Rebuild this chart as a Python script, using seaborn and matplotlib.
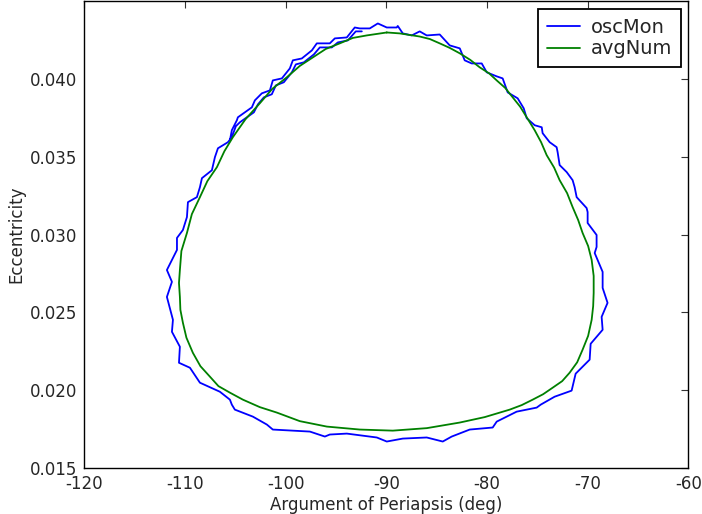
import matplotlib
matplotlib.use("Agg")
import matplotlib.pyplot as plt
import seaborn as sns
import pandas as pd

# osculating (oscMon) path, in drawing order
osc_omega = [
    -105.53, -105.34, -104.84, -104.74, -103.35, -103.05, -102.36, -101.56, -101.27, -100.37,
    -99.58, -99.28, -98.39, -97.39, -96.90, -95.61, -95.11, -93.92, -93.13, -92.63,
    -91.64, -90.84, -89.95, -88.96, -88.86, -88.36, -87.47, -86.68, -85.98, -84.69,
    -83.70, -82.70, -82.21, -81.51, -80.52, -80.02, -79.03, -78.44, -77.94, -76.95,
    -76.35, -76.05, -75.26, -74.56, -74.47, -73.77, -73.08, -72.98, -72.78, -72.08,
    -71.49, -71.29, -71.09, -70.10, -70.00, -70.00, -69.11, -69.11, -69.30, -68.51,
    -68.51, -68.02, -68.61, -68.51, -69.70, -69.80, -71.19, -71.59, -73.28, -74.66,
    -75.06, -77.05, -79.03, -79.43, -81.71, -83.50, -84.39, -85.98, -88.36, -89.95,
    -90.94, -93.92, -95.61, -96.10, -97.59, -101.27, -101.86, -103.25, -105.04, -105.34,
    -105.53, -106.53, -108.51, -109.50, -110.59, -110.50, -111.29, -111.19, -111.79, -111.29,
    -111.79, -110.79, -110.79, -110.20, -109.80, -109.70, -108.81, -108.51, -108.31, -107.32,
    -107.02, -106.72, -105.73, -105.34, -104.94, -104.54, -103.15, -102.75, -102.16, -101.37,
    -100.97, -100.18, -99.38, -98.98, -98.19, -97.19, -96.60, -95.41, -94.81, -93.82,
    -93.03, -92.43,
]
osc_ecc = [
    0.03606, 0.03670, 0.03734, 0.03753, 0.03817, 0.03862, 0.03907, 0.03926, 0.03990, 0.04003,
    0.04067, 0.04119, 0.04131, 0.04183, 0.04228, 0.04228, 0.04260, 0.04266, 0.04330, 0.04324,
    0.04324, 0.04356, 0.04330, 0.04330, 0.04340, 0.04292, 0.04279, 0.04305, 0.04279, 0.04285,
    0.04215, 0.04196, 0.04119, 0.04099, 0.04099, 0.04042, 0.04016, 0.04003, 0.03913, 0.03875,
    0.03811, 0.03747, 0.03702, 0.03689, 0.03651, 0.03593, 0.03561, 0.03529, 0.03446, 0.03401,
    0.03349, 0.03304, 0.03240, 0.03170, 0.03144, 0.03074, 0.02997, 0.02920, 0.02881, 0.02760,
    0.02657, 0.02561, 0.02471, 0.02388, 0.02298, 0.02196, 0.02106, 0.01997, 0.01958, 0.01907,
    0.01888, 0.01862, 0.01798, 0.01760, 0.01747, 0.01702, 0.01670, 0.01696, 0.01689, 0.01670,
    0.01696, 0.01721, 0.01715, 0.01702, 0.01734, 0.01747, 0.01779, 0.01830, 0.01875, 0.01907,
    0.01939, 0.01990, 0.02048, 0.02144, 0.02176, 0.02279, 0.02375, 0.02452, 0.02599, 0.02696,
    0.02772, 0.02901, 0.02978, 0.03029, 0.03112, 0.03208, 0.03240, 0.03304, 0.03362, 0.03413,
    0.03497, 0.03554, 0.03593, 0.03625, 0.03696, 0.03721, 0.03785, 0.03836, 0.03881, 0.03901,
    0.03958, 0.03978, 0.04042, 0.04093, 0.04106, 0.04157, 0.04202, 0.04202, 0.04234, 0.04247,
    0.04305, 0.04305,
]

# averaged numerical (avgNum) contour, closed loop
avg_omega = [
    -89.95, -88.66, -86.68, -85.68, -84.69, -83.70, -82.70, -81.66, -80.72, -79.78,
    -79.03, -78.19, -77.44, -76.70, -76.05, -75.26, -74.62, -74.07, -73.33, -72.78,
    -72.04, -71.49, -70.94, -70.50, -69.95, -69.60, -69.40, -69.40, -69.45, -69.60,
    -69.95, -70.50, -71.04, -71.79, -72.53, -73.47, -74.42, -75.46, -76.55, -77.74,
    -80.22, -82.70, -85.98, -89.35, -92.63, -95.90, -98.59, -100.87, -102.56, -104.24,
    -105.53, -106.67, -107.52, -108.46, -109.21, -109.85, -110.20, -110.45, -110.50, -110.59,
    -110.50, -110.35, -109.80, -109.31, -108.51, -107.77, -106.82, -106.08, -105.24, -103.99,
    -102.56, -101.32, -99.88, -98.59, -97.29, -96.01, -94.62, -93.32, -91.94, -89.95,
]
avg_ecc = [
    0.04298, 0.04292, 0.04272, 0.04256, 0.04228, 0.04199, 0.04164, 0.04122, 0.04074, 0.04035,
    0.03990, 0.03942, 0.03881, 0.03821, 0.03753, 0.03670, 0.03593, 0.03510, 0.03430, 0.03349,
    0.03266, 0.03176, 0.03093, 0.03010, 0.02926, 0.02837, 0.02734, 0.02625, 0.02540, 0.02452,
    0.02349, 0.02260, 0.02179, 0.02112, 0.02058, 0.02016, 0.01974, 0.01939, 0.01904, 0.01875,
    0.01827, 0.01792, 0.01756, 0.01740, 0.01747, 0.01766, 0.01801, 0.01856, 0.01891, 0.01939,
    0.01984, 0.02026, 0.02087, 0.02154, 0.02240, 0.02337, 0.02433, 0.02516, 0.02599, 0.02689,
    0.02772, 0.02894, 0.03010, 0.03131, 0.03240, 0.03343, 0.03433, 0.03535, 0.03625, 0.03740,
    0.03843, 0.03936, 0.04010, 0.04083, 0.04138, 0.04192, 0.04228, 0.04263, 0.04279, 0.04298,
]

x_ticks = [-120, -110, -100, -90, -80, -70, -60]
y_ticks = [0.015, 0.020, 0.025, 0.030, 0.035, 0.040]

sns.set_style("white")
plt.rcParams["font.family"] = ["DejaVu Sans"]
plt.rcParams["axes.unicode_minus"] = False
plt.rcParams["xtick.direction"] = "in"
plt.rcParams["ytick.direction"] = "in"

df_osc = pd.DataFrame({"omega": osc_omega, "ecc": osc_ecc})
df_avg = pd.DataFrame({"omega": avg_omega, "ecc": avg_ecc})

fig = plt.figure(figsize=(7.02, 5.14), dpi=100)
ax = fig.add_axes([0.12, 0.0895, 0.8605, 0.9085])

sns.lineplot(data=df_osc, x="omega", y="ecc", sort=False, estimator=None,
             color="#0000ff", linewidth=1.3, label="oscMon", ax=ax)
sns.lineplot(data=df_avg, x="omega", y="ecc", sort=False, estimator=None,
             color="#008000", linewidth=1.3, label="avgNum", ax=ax)

ax.set_xlim(-120, -60)
ax.set_ylim(0.015, 0.045)
ax.set_xticks(x_ticks)
ax.set_yticks(y_ticks)
ax.set_xticklabels([str(t) for t in x_ticks])
ax.set_yticklabels([f"{t:.3f}" for t in y_ticks])
ax.tick_params(axis="both", which="major", length=5, width=0.8, color="#333333",
               labelsize=12, top=True, right=True, pad=5)
for sp in ax.spines.values():
    sp.set_color("black")
    sp.set_linewidth(1.0)

ax.set_xlabel("Argument of Periapsis (deg)", fontsize=12, labelpad=2)
ax.set_ylabel("Eccentricity", fontsize=12, labelpad=3)

leg = ax.legend(loc="upper right", fontsize=14, fancybox=False, framealpha=1,
                edgecolor="black", borderaxespad=0.4, handlelength=1.7,
                handletextpad=0.55, borderpad=0.45, labelspacing=0.15)
leg.get_frame().set_linewidth(1.3)

fig.savefig("out.png", dpi=100)
